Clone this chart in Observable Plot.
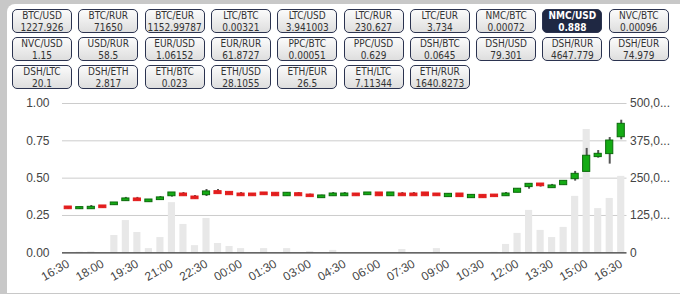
<!DOCTYPE html>
<html>
<head>
<meta charset="utf-8">
<script src="https://cdn.jsdelivr.net/npm/d3@7"></script>
<script src="https://cdn.jsdelivr.net/npm/@observablehq/plot@0.6"></script>
<style>
  html, body { margin: 0; padding: 0; }
  body { width: 680px; height: 294px; background: #c8c8c8; position: relative; overflow: hidden; font-family: "Liberation Sans", Arial, sans-serif; }
  #panel { position: absolute; left: 7px; top: 4px; width: 690px; height: 289px; background: #fff; border-radius: 8px 0 0 0; }
  .btn { position: absolute; box-sizing: border-box; width: 60px; height: 24px; border: 1px solid #2b3350; border-radius: 5px;
         background: linear-gradient(#fbfbfb, #dedede); color: #333; text-align: center;
         font-family: "DejaVu Sans Condensed", "Liberation Sans", sans-serif; font-size: 10px; line-height: 11.5px; padding-top: 0px; white-space: nowrap; overflow: visible; }
  .btn span { display: block; }
  .btn.active { background: #1f2843; color: #fff; font-weight: bold; }
  #chart { position: absolute; left: 0; top: 92px; }
</style>
</head>
<body>
<div id="panel"></div>
<div id="buttons"></div>
<div id="chart"></div>
<script>
// ---- data ----
const pairs = ["BTC/USD","BTC/RUR","BTC/EUR","LTC/BTC","LTC/USD","LTC/RUR","LTC/EUR","NMC/BTC","NMC/USD","NVC/BTC",
               "NVC/USD","USD/RUR","EUR/USD","EUR/RUR","PPC/BTC","PPC/USD","DSH/BTC","DSH/USD","DSH/RUR","DSH/EUR",
               "DSH/LTC","DSH/ETH","ETH/BTC","ETH/USD","ETH/EUR","ETH/LTC","ETH/RUR"];
const prices = ["1227.926","71650","1152.99787","0.00321","3.941003","230.627","3.734","0.00072","0.888","0.00096",
                "1.15","58.5","1.06152","61.8727","0.00051","0.629","0.0645","79.301","4647.779","74.979",
                "20.1","2.817","0.023","28.1055","26.5","7.11344","1640.8273"];
const activePair = "NMC/USD";

const opens  = [0.310,0.292,0.292,0.317,0.319,0.346,0.364,0.339,0.353,0.379,0.397,0.377,0.386,0.413,0.408,0.397,0.397,0.404,0.402,0.379,0.399,0.390,0.366,0.379,0.379,
                0.397,0.386,0.404,0.379,0.397,0.397,0.404,0.397,0.373,0.397,0.366,0.388,0.390,0.379,0.402,0.440,0.464,0.433,0.453,0.493,0.542,0.641,0.661,0.774];
const closes = [0.292,0.306,0.308,0.299,0.337,0.364,0.346,0.357,0.371,0.404,0.379,0.359,0.411,0.393,0.386,0.379,0.379,0.386,0.379,0.402,0.379,0.373,0.384,0.397,0.397,
                0.379,0.404,0.379,0.404,0.379,0.379,0.379,0.379,0.395,0.373,0.388,0.366,0.373,0.397,0.429,0.462,0.446,0.451,0.482,0.529,0.650,0.663,0.752,0.864];
const highs  = [0.310,0.306,0.317,0.317,0.337,0.371,0.371,0.357,0.377,0.404,0.404,0.384,0.424,0.424,0.408,0.404,0.397,0.404,0.402,0.404,0.404,0.393,0.386,0.404,0.404,
                0.397,0.404,0.404,0.404,0.404,0.404,0.404,0.397,0.397,0.397,0.388,0.388,0.390,0.404,0.429,0.462,0.464,0.458,0.482,0.545,0.699,0.685,0.772,0.888];
const lows   = [0.292,0.290,0.292,0.299,0.319,0.346,0.346,0.339,0.353,0.373,0.379,0.359,0.377,0.393,0.386,0.379,0.379,0.386,0.379,0.379,0.379,0.373,0.366,0.379,0.379,
                0.379,0.386,0.379,0.379,0.379,0.379,0.379,0.379,0.373,0.373,0.366,0.366,0.373,0.379,0.402,0.426,0.440,0.433,0.453,0.480,0.542,0.634,0.594,0.757];
const volumes = [0,2,3,0,58,108,68,14,51,168,95,24,115,31,21,14,0,14,0,14,0,4,0,8,0,
                 0,0,0,0,11,0,0,14,0,0,0,0,2,28,65,142,75,51,85,189,413,148,182,256];
const xTickLabels = ["16:30","18:00","19:30","21:00","22:30","00:00","01:30","03:00","04:30",
                     "06:00","07:30","09:00","10:30","12:00","13:30","15:00","16:30"];
const leftTicks = [0, 0.25, 0.5, 0.75, 1];
const rightTickLabels = ["0","125,0...","250,0...","375,0...","500,0..."];
const volumeMax = 500;

// ---- buttons ----
const bc = document.getElementById("buttons");
pairs.forEach((p, i) => {
  const d = document.createElement("div");
  d.className = "btn" + (p === activePair ? " active" : "");
  d.style.left = (12 + (i % 10) * 66.3) + "px";
  d.style.top = (9 + Math.floor(i / 10) * 28) + "px";
  const a = document.createElement("span"); a.textContent = p;
  const b = document.createElement("span"); b.textContent = prices[i];
  d.appendChild(a); d.appendChild(b);
  bc.appendChild(d);
});

// ---- chart ----
const data = opens.map((o, i) => ({
  i, open: o, close: closes[i], high: highs[i], low: lows[i],
  vol: volumes[i] / volumeMax, up: closes[i] >= o
}));

const chart = Plot.plot({
  width: 680, height: 200,
  marginLeft: 62, marginRight: 53.5, marginTop: 11, marginBottom: 39.7,
  style: { background: "transparent", fontSize: "12px", fontFamily: "'Liberation Sans', Arial, sans-serif", color: "#444", overflow: "visible" },
  x: { type: "band", domain: d3.range(opens.length), paddingInner: 0.38, paddingOuter: 0.19, round: false, axis: null, label: null },
  y: { domain: [0, 1], axis: null, label: null },
  marks: [
    Plot.gridY(leftTicks.filter(d => d > 0), { stroke: "#cccccc", strokeOpacity: 1 }),
    Plot.barY(data, { x: "i", y: "vol", fill: "#e8e8e8" }),
    Plot.ruleY([0], { stroke: "#333", strokeWidth: 1.3 }),
    Plot.ruleX(data, { x: "i", y1: "low", y2: "high", stroke: "#555", strokeWidth: 2 }),
    Plot.barY(data, { x: "i", y1: "open", y2: "close",
      fill: d => d.up ? "#14ab14" : "#e31d1d",
      stroke: d => d.up ? "#0b6b0b" : "#e31d1d", strokeWidth: 1 }),
    Plot.axisY({ anchor: "left", ticks: leftTicks, tickFormat: d3.format(".2f"), tickSize: 0, tickPadding: 13, label: null }),
    Plot.axisY({ anchor: "right", ticks: leftTicks, tickFormat: (d, k) => rightTickLabels[k], tickSize: 0, tickPadding: 3, label: null }),
    Plot.axisX({ ticks: d3.range(0, opens.length, 3), tickFormat: d => xTickLabels[d / 3], tickRotate: -30, tickSize: 0, tickPadding: 10, label: null })
  ]
});
document.getElementById("chart").appendChild(chart);
</script>
</body>
</html>
